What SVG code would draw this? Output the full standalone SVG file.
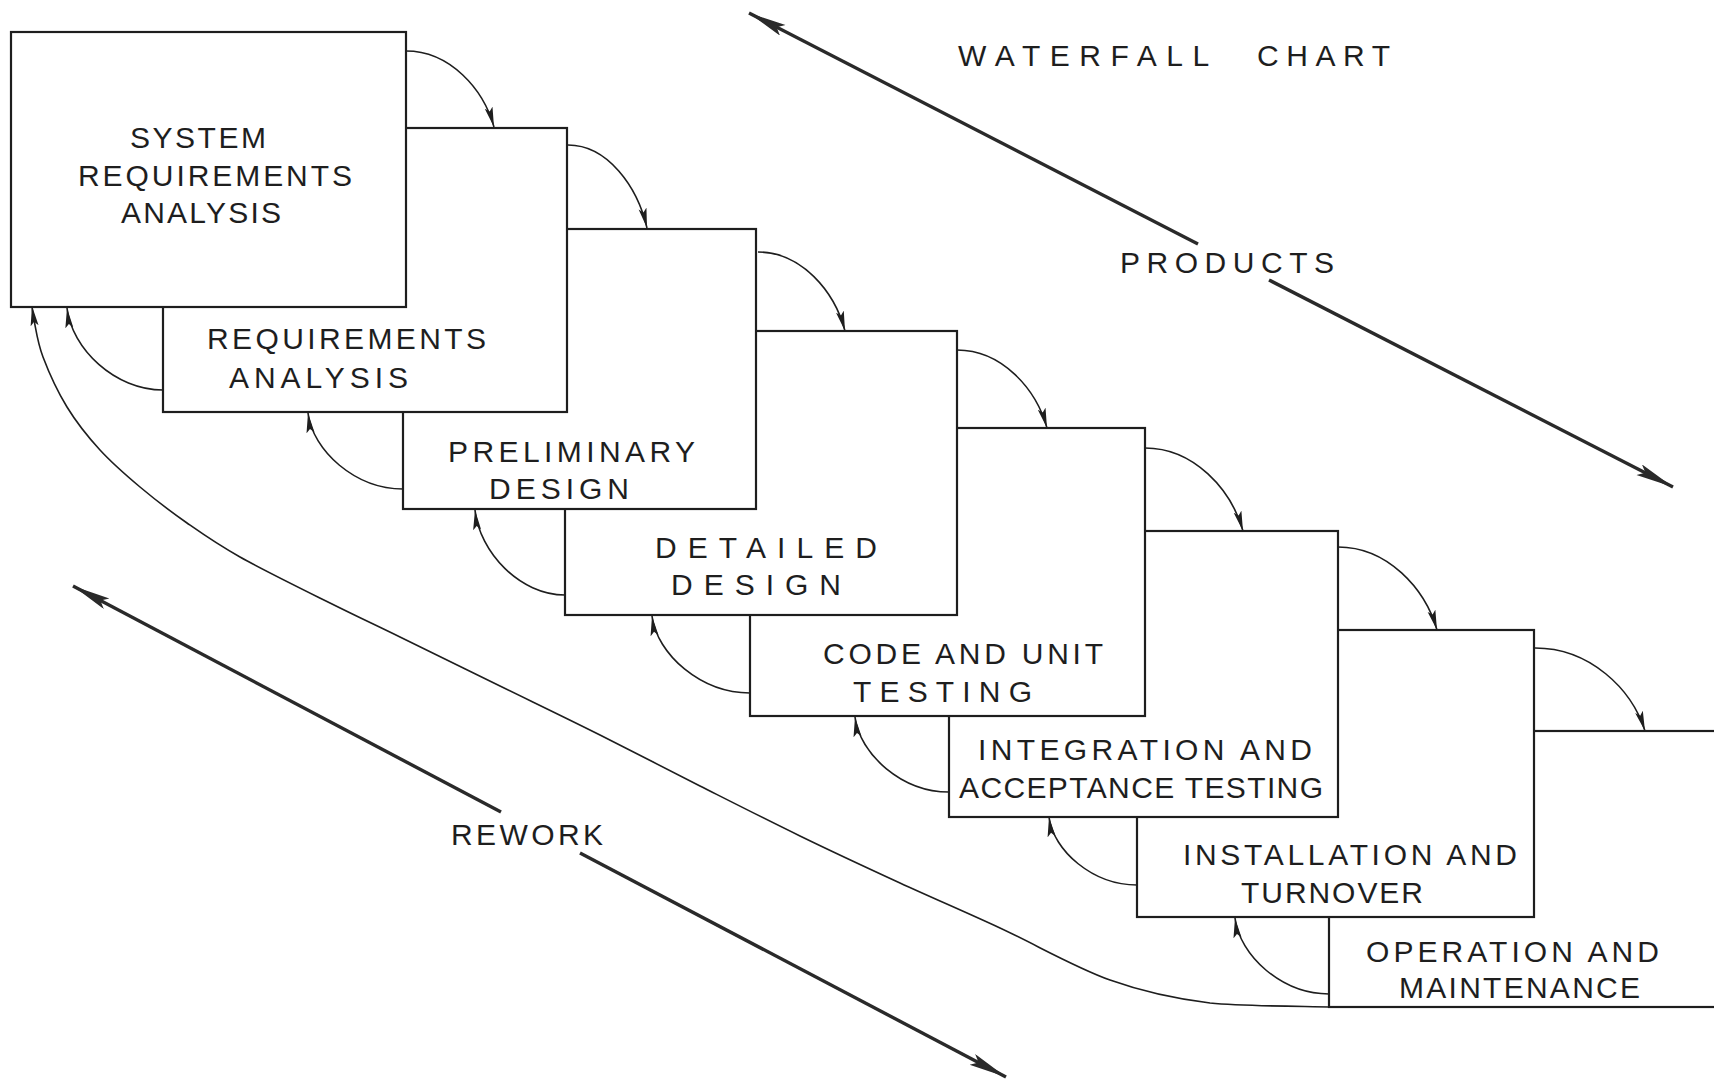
<svg xmlns="http://www.w3.org/2000/svg" width="1714" height="1082" viewBox="0 0 1714 1082">
<defs>
<style>
.box{fill:#fff;stroke:#1e1e1e;stroke-width:2.2}
.lbl{font-family:"Liberation Sans",Arial,sans-serif;font-size:30px;fill:#1e1e1e}
.con{fill:none;stroke:#1e1e1e;stroke-width:1.6}
.big{fill:none;stroke:#2a2a2a;stroke-width:3.4}
</style>
<marker id="ah" markerUnits="userSpaceOnUse" markerWidth="22" markerHeight="10" refX="20" refY="4" orient="auto">
<path d="M0,0 L20,4 L0,8 L4,4 z" fill="#1e1e1e"/>
</marker>
<marker id="bh" markerUnits="userSpaceOnUse" markerWidth="40" markerHeight="14" refX="38" refY="6" orient="auto">
<path d="M0,0 L38,6 L0,12 L7,6 z" fill="#2a2a2a"/>
</marker>
</defs>
<rect width="1714" height="1082" fill="#fff"/>

<g id="node-8">
<rect class="box" x="1329" y="731" width="420" height="276"/>
<text class="lbl" x="1366" y="962" textLength="293" lengthAdjust="spacing">OPERATION AND</text>
<text class="lbl" x="1399" y="998" textLength="241" lengthAdjust="spacing">MAINTENANCE</text>
</g>
<g id="node-7">
<rect class="box" x="1137" y="630" width="397" height="287"/>
<text class="lbl" x="1183" y="865" textLength="334" lengthAdjust="spacing">INSTALLATION AND</text>
<text class="lbl" x="1241" y="903" textLength="182" lengthAdjust="spacing">TURNOVER</text>
</g>
<g id="node-6">
<rect class="box" x="949" y="531" width="389" height="286"/>
<text class="lbl" x="978" y="760" textLength="334" lengthAdjust="spacing">INTEGRATION AND</text>
<text class="lbl" x="959" y="798" textLength="364" lengthAdjust="spacing">ACCEPTANCE TESTING</text>
</g>
<g id="node-5">
<rect class="box" x="750" y="428" width="395" height="288"/>
<text class="lbl" x="823" y="664" textLength="280" lengthAdjust="spacing">CODE AND UNIT</text>
<text class="lbl" x="853" y="702" textLength="179" lengthAdjust="spacing">TESTING</text>
</g>
<g id="node-4">
<rect class="box" x="565" y="331" width="392" height="284"/>
<text class="lbl" x="655" y="558" textLength="222" lengthAdjust="spacing">DETAILED</text>
<text class="lbl" x="671" y="595" textLength="170" lengthAdjust="spacing">DESIGN</text>
</g>
<g id="node-3">
<rect class="box" x="403" y="229" width="353" height="280"/>
<text class="lbl" x="448" y="462" textLength="247" lengthAdjust="spacing">PRELIMINARY</text>
<text class="lbl" x="489" y="499" textLength="140" lengthAdjust="spacing">DESIGN</text>
</g>
<g id="node-2">
<rect class="box" x="163" y="128" width="404" height="284"/>
<text class="lbl" x="207" y="349" textLength="279" lengthAdjust="spacing">REQUIREMENTS</text>
<text class="lbl" x="229" y="388" textLength="179" lengthAdjust="spacing">ANALYSIS</text>
</g>
<g id="node-1">
<rect class="box" x="11" y="32" width="395" height="275"/>
<text class="lbl" x="130" y="148" textLength="136" lengthAdjust="spacing">SYSTEM</text>
<text class="lbl" x="78" y="186" textLength="274" lengthAdjust="spacing">REQUIREMENTS</text>
<text class="lbl" x="121" y="223" textLength="160" lengthAdjust="spacing">ANALYSIS</text>
</g>

<g id="connectors">
<path class="con" marker-end="url(#ah)" d="M406,51 C450,51 483.4,89 494,127"/>
<path class="con" marker-end="url(#ah)" d="M568,145 C607.5,145 637.5,186.5 647,228"/>
<path class="con" marker-end="url(#ah)" d="M758,252 C801.5,252 834.6,291.5 845,331"/>
<path class="con" marker-end="url(#ah)" d="M957,350 C1002,350 1036.2,389 1047,428"/>
<path class="con" marker-end="url(#ah)" d="M1145,448 C1194,448 1231.2,489.5 1243,531"/>
<path class="con" marker-end="url(#ah)" d="M1338,547 C1387.5,547 1425.1,588.5 1437,630"/>
<path class="con" marker-end="url(#ah)" d="M1535,648 C1590,648 1631.8,689 1645,731"/>

<path class="con" marker-end="url(#ah)" d="M163,390 C115,390 71.8,349 67,308"/>
<path class="con" marker-end="url(#ah)" d="M403,489 C355.5,489 312.75,451 308,413"/>
<path class="con" marker-end="url(#ah)" d="M565,595 C520,595 479.5,552.5 475,510"/>
<path class="con" marker-end="url(#ah)" d="M750,693 C701,693 656.9,654.5 652,616"/>
<path class="con" marker-end="url(#ah)" d="M949,792 C902,792 859.7,754.5 855,717"/>
<path class="con" marker-end="url(#ah)" d="M1137,885 C1093,885 1053.4,851 1049,817"/>
<path class="con" marker-end="url(#ah)" d="M1329,994 C1282,994 1239.7,956 1235,918"/>

<path class="con" marker-end="url(#ah)" d="M1329,1007 C1309.2,1006.3 1246.5,1006.5 1210,1003 C1173.5,998.5 1145,992.5 1110,980 C1075,967.5 1035,944.2 1000,928 C965,911.8 933.3,898.3 900,883 C866.7,867.7 833.3,852.2 800,836 C766.7,819.8 733.3,802.8 700,786 C666.7,769.2 633.3,751.7 600,735 C566.7,718.3 533.3,702.3 500,686 C466.7,669.7 428.3,650.8 400,637 C371.7,623.2 356.7,616.3 330,603 C303.3,589.7 263.8,570.3 240,557 C216.2,543.7 203.7,534.7 187,523 C170.3,511.3 154.5,499.2 140,487 C125.5,474.8 112.2,463.3 100,450 C87.8,436.7 76.5,422.5 67,407 C57.5,391.5 48.5,371.5 43,357 C37.5,342.5 35.8,328.5 34,320 C32.2,311.5 32.3,308.3 32,306"/>

<path class="big" marker-end="url(#bh)" d="M1198,244 L749,13"/>
<path class="big" marker-end="url(#bh)" d="M1269,280 L1673,487"/>
<path class="big" marker-end="url(#bh)" d="M501,812 L73,586"/>
<path class="big" marker-end="url(#bh)" d="M580,853 L1006,1077"/>
</g>

<g id="labels">
<text class="lbl" y="66"><tspan x="958" textLength="250" lengthAdjust="spacing">WATERFALL</tspan> <tspan x="1257" textLength="133" lengthAdjust="spacing">CHART</tspan></text>
<text class="lbl" x="1120" y="273" textLength="214" lengthAdjust="spacing">PRODUCTS</text>
<text class="lbl" x="451" y="845" textLength="152" lengthAdjust="spacing">REWORK</text>
</g>
</svg>
